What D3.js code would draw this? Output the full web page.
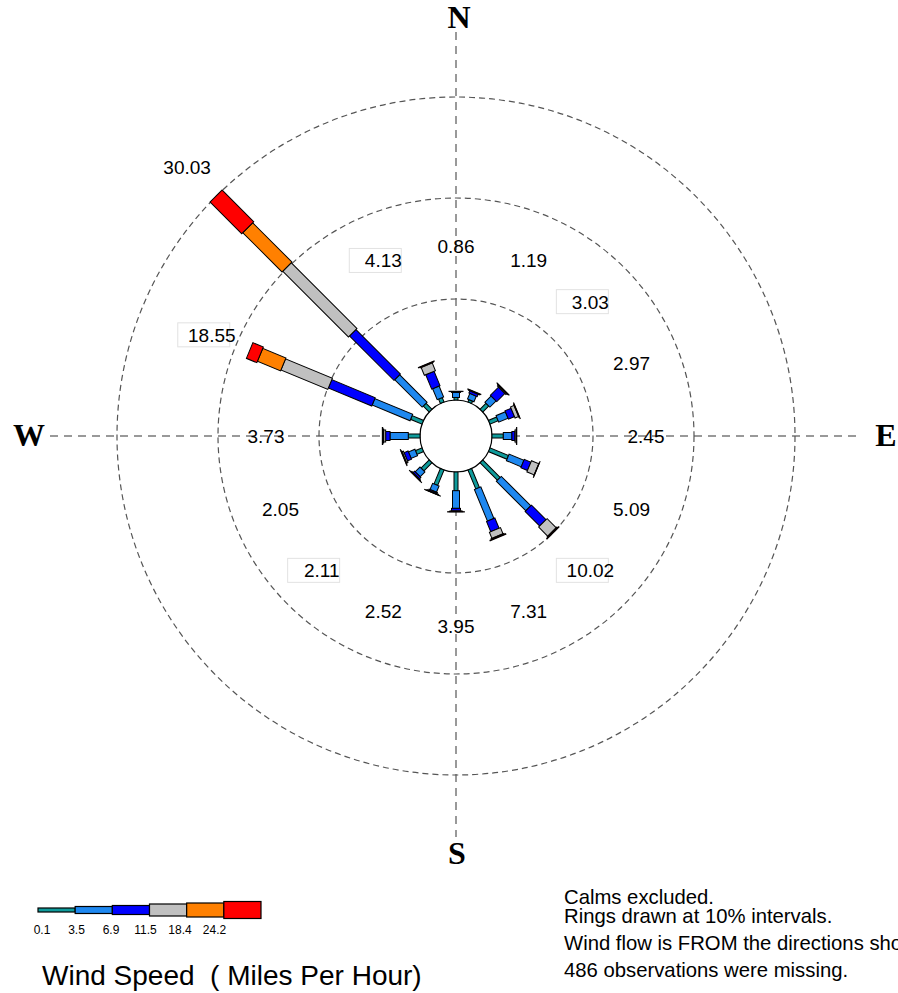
<!DOCTYPE html>
<html>
<head>
<meta charset="utf-8">
<script src="https://cdn.jsdelivr.net/npm/d3@7/dist/d3.min.js"></script>
<style>
  body { margin: 0; background: #fff; }
  svg { display: block; }
  text { font-family: "Liberation Sans", Arial, sans-serif; }
</style>
</head>
<body>
<svg id="chart" width="898" height="993"></svg>
<script>
// ---- data ----
const directions = ["N","NNE","NE","ENE","E","ESE","SE","SSE","S","SSW","SW","WSW","W","WNW","NW","NNW"];
const totalLabels = ["0.86","1.19","3.03","2.97","2.45","5.09","10.02","7.31","3.95","2.52","2.11","2.05","3.73","18.55","30.03","4.13"];
const speedBreaks = ["0.1","3.5","6.9","11.5","18.4","24.2"];
// percent frequency per direction for each speed class (mph)
const class01_35   = [0.25,0.25,0.83,0.87,1.12,1.98,2.43,2.03,1.85,1.65,1.13,0.70,1.16,1.22,0.83,0.47];
const class35_69   = [0.50,0.60,0.87,1.00,0.85,1.59,4.13,3.38,1.75,0.67,0.67,0.69,1.81,4.06,3.84,1.18];
const class69_115  = [0.08,0.25,1.13,0.65,0.30,0.71,2.04,1.10,0.25,0.12,0.20,0.43,0.43,4.65,6.23,1.54];
const class115_184 = [0.02,0.06,0.12,0.38,0.12,0.78,1.27,0.65,0.06,0.05,0.07,0.15,0.20,5.02,9.20,0.83];
const class184_242 = [0.01,0.03,0.05,0.05,0.04,0.02,0.10,0.10,0.03,0.02,0.03,0.06,0.09,2.48,5.50,0.08];
const class242up   = [0.00,0.00,0.03,0.02,0.02,0.01,0.05,0.05,0.01,0.01,0.01,0.02,0.04,1.12,4.43,0.03];
const ringValues = [10, 20, 30];
const cardinals = ["N","E","S","W"];
const notes = ["Calms excluded.","Rings drawn at 10% intervals.","Wind flow is FROM the directions shown.","486 observations were missing."];

// ---- styles ----
const series = [class01_35, class35_69, class69_115, class115_184, class184_242, class242up];
const colors = ["#0f9b9b","#1e88f0","#0000ff","#c0c0c0","#ff8000","#ff0000"];
const widths = [4, 7, 9, 12, 14, 17];
const boxed = new Set(["NNW","NE","SE","SW","WNW"]);

const svg = d3.select("#chart");
const cx = 456, cy = 436, calmR = 36;
const r = d3.scaleLinear().domain([0, 30]).range([calmR, 339]);
const angle = d3.scalePoint().domain(directions).range([0, 360 - 22.5]);

const g = svg.append("g").attr("transform", `translate(${cx},${cy})`);

// axes
g.append("line").attr("x1", 0).attr("x2", 0).attr("y1", 32 - cy).attr("y2", 837 - cy)
  .attr("stroke", "#999").attr("stroke-width", 2).attr("stroke-dasharray", "8,6");
g.append("line").attr("y1", 0).attr("y2", 0).attr("x1", 50 - cx).attr("x2", 862 - cx)
  .attr("stroke", "#999").attr("stroke-width", 2).attr("stroke-dasharray", "8,6");

// rings
g.selectAll("circle.ring").data(ringValues).join("circle")
  .attr("class", "ring").attr("r", d => r(d))
  .attr("fill", "none").attr("stroke", "#555").attr("stroke-width", 1.2)
  .attr("stroke-dasharray", "6,4");

// calm circle
g.append("circle").attr("r", calmR).attr("fill", "#fff").attr("stroke", "#000").attr("stroke-width", 1.2);

// bars
directions.forEach((dir, i) => {
  const bg = g.append("g").attr("transform", `rotate(${angle(dir)})`);
  let cum = 0;
  series.forEach((s, k) => {
    const v = s[i];
    if (v <= 0) return;
    const r0 = r(cum), r1 = r(cum + v);
    cum += v;
    bg.append("rect")
      .attr("x", -widths[k] / 2).attr("width", widths[k])
      .attr("y", -r1).attr("height", Math.max(r1 - r0, 0.01))
      .attr("fill", colors[k]).attr("stroke", "#000").attr("stroke-width", 1);
  });
});

// direction total labels
directions.forEach((dir, i) => {
  const total = series.reduce((a, s) => a + s[i], 0);
  const lr = Math.max(190, r(total) + 41);
  const a = angle(dir) * Math.PI / 180;
  const x = lr * Math.sin(a), y = -lr * Math.cos(a);
  if (boxed.has(dir)) {
    g.append("rect").attr("x", x - 34).attr("y", y - 12).attr("width", 52).attr("height", 24)
      .attr("fill", "#fff").attr("stroke", "#e2e2e2").attr("stroke-width", 1);
  }
  g.append("text").attr("x", x).attr("y", y).attr("dy", "0.36em")
    .attr("text-anchor", "middle").attr("font-size", 19).attr("fill", "#000")
    .text(totalLabels[i]);
});

// cardinal labels
const cardPos = { N: [459, 28], E: [886, 446], S: [457, 864], W: [29, 446] };
svg.selectAll("text.card").data(cardinals).join("text")
  .attr("class", "card")
  .attr("x", d => cardPos[d][0]).attr("y", d => cardPos[d][1])
  .attr("text-anchor", "middle")
  .style("font-family", "'Liberation Serif', 'Times New Roman', serif")
  .attr("font-weight", "bold").attr("font-size", 32)
  .text(d => d);

// legend
const lx = d3.scaleLinear().domain([0, 6]).range([38, 261]);
const leg = svg.append("g");
speedBreaks.forEach((lab, k) => {
  leg.append("rect").attr("x", lx(k)).attr("width", lx(k + 1) - lx(k))
    .attr("y", 910 - widths[k] / 2).attr("height", widths[k])
    .attr("fill", colors[k]).attr("stroke", "#000").attr("stroke-width", 1.2);
  leg.append("text").attr("x", 42 + k * 34.5).attr("y", 934)
    .attr("text-anchor", "middle").attr("font-size", 12).text(lab);
});
svg.append("text").attr("x", 42).attr("y", 985).attr("font-size", 28)
  .style("white-space", "pre").text("Wind Speed  ( Miles Per Hour)");

// notes
const noteY = [904, 923, 950, 977];
notes.forEach((t, i) => {
  svg.append("text").attr("x", 564).attr("y", noteY[i]).attr("font-size", 20.3).text(t);
});
</script>
</body>
</html>
